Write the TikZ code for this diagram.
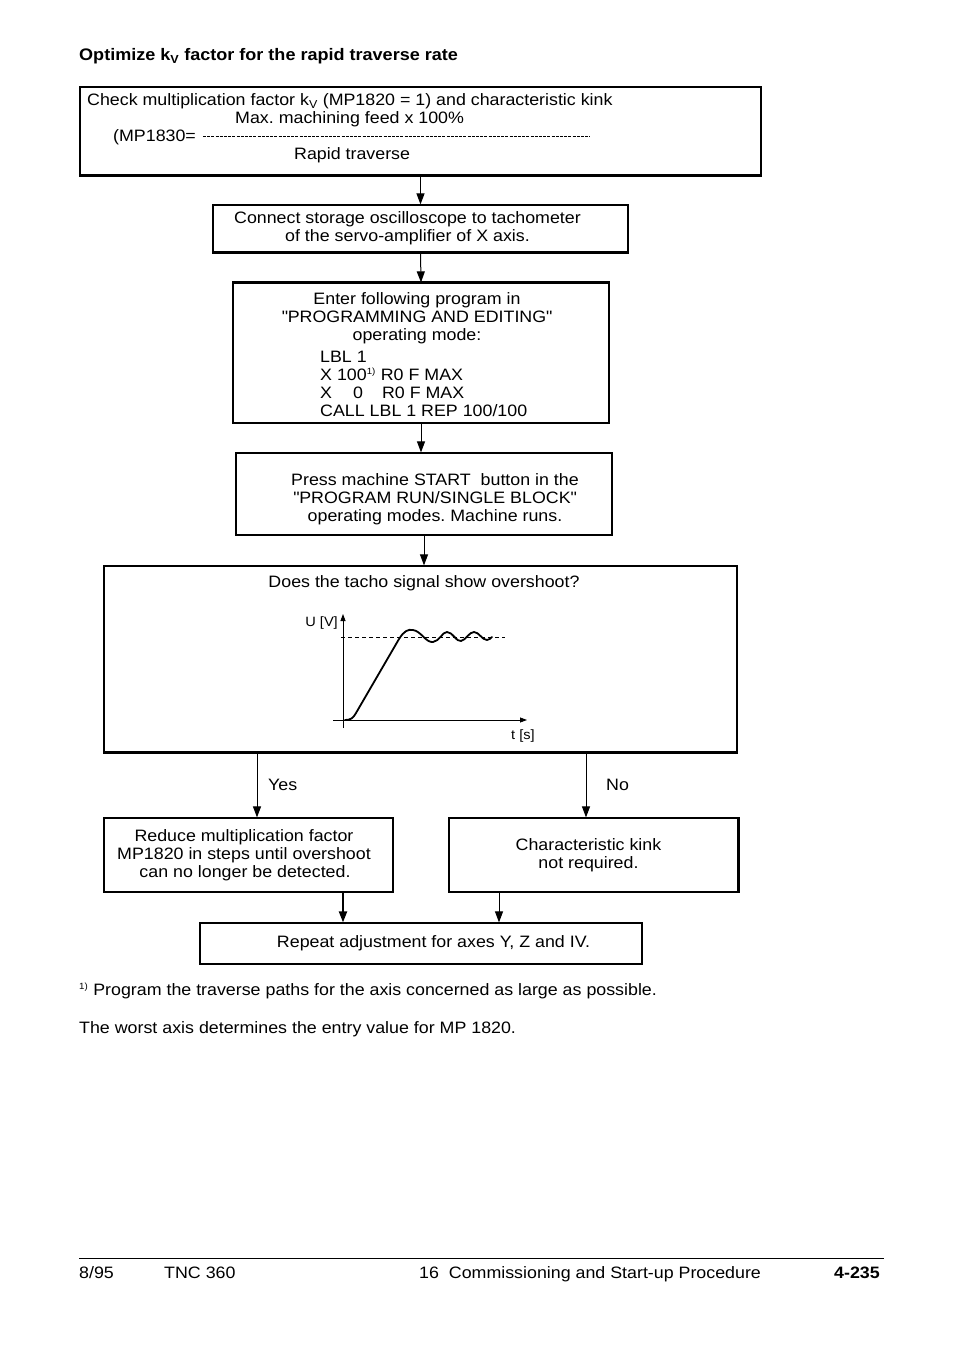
\documentclass[tikz,border=0pt]{standalone}
\usepackage{fontspec}
\setmainfont{Liberation Sans}[FakeStretch=1.08]
\usetikzlibrary{arrows.meta,fit}
\frenchspacing
\begin{document}
\begin{tikzpicture}[x=1pt,y=-1pt,
  box/.style={draw,line width=1.2pt,inner sep=0pt},
  thick edge/.style={line width=2.2pt},
  arr/.style={line width=1pt,-{Triangle[length=11pt,width=8pt]}},
  txt/.style={inner sep=0pt,font=\fontsize{16.5}{18}\selectfont},
  tl/.style={txt,anchor=base west},
  tc/.style={txt,anchor=base},
  small/.style={inner sep=0pt,font=\fontsize{13.5}{15}\selectfont}]
\useasboundingbox (0,0) rectangle (954,1346);

% title
\node[anchor=base west,inner sep=0pt,font=\fontsize{16.7}{18}\selectfont\bfseries] (title) at (79,61) {Optimize k\textsubscript{V} factor for the rapid traverse rate};

% boxes
\node[box,fit={(80,87)(761,175)}] (b1) {};
\node[box,fit={(213,205)(628,252)}] (b2) {};
\node[box,fit={(233,283)(609,423)}] (b3) {};
\node[box,fit={(236,453)(612,535)}] (b4) {};
\node[box,fit={(104,566)(737,752)}] (b5) {};
\node[box,fit={(104,818)(393,892)}] (b6) {};
\node[box,fit={(449,818)(738,892)}] (b7) {};
\node[box,fit={(200,923)(642,964)}] (b8) {};

% heavier edges
\draw[thick edge] (b1.south west) -- (b1.south east);
\draw[thick edge] (b2.south west) -- (b2.south east);
\draw[thick edge] (b3.north west) -- (b3.north east);
\draw[thick edge] (b5.south west) -- (b5.south east);
\draw[thick edge] (b7.north east) -- (b7.south east);

% box 1 text
\node[tl] (t11) at (87,105.5) {Check multiplication factor k\textsubscript{V} (MP1820 = 1) and characteristic kink};
\node[tl] (t12) at (235,123.5) {Max. machining feed x 100\%};
\node[tl] (t13) at (113,141.5) {(MP1830=};
\coordinate (fracL) at (203,136);
\coordinate (fracR) at (590,136);
\draw[line width=0.8pt,dash pattern=on 3pt off 1.2pt] (fracL) -- (fracR);
\node[tl] (t14) at (294,159.5) {Rapid traverse};

% box 2 text
\node[tc] (t21) at (407.5,223.5) {Connect storage oscilloscope to tachometer};
\node[tc] (t22) at (407.5,241.5) {of the servo-amplifier of X axis.};

% box 3 text
\node[tc] (t31) at (417,304.5) {Enter following program in};
\node[tc] (t32) at (417,322.5) {\textquotedbl PROGRAMMING AND EDITING\textquotedbl};
\node[tc] (t33) at (417,340.5) {operating mode:};
\node[tl] (t34) at (320,362.5) {LBL 1};
\node[tl] (t35) at (320,380.5) {X 100\textsuperscript{\fontsize{9}{9}\selectfont 1)} R0 F MAX};
\node[tl] (t36) at (320,398.5) {X\hspace{1.28em}0\hspace{1.15em}R0 F MAX};
\node[tl] (t37) at (320,416.5) {CALL LBL 1 REP 100/100};

% box 4 text
\node[tc] (t41) at (435,485.5) {Press machine START\ \ button in the};
\node[tc] (t42) at (435,503.5) {\textquotedbl PROGRAM RUN/SINGLE BLOCK\textquotedbl};
\node[tc] (t43) at (435,521.5) {operating modes. Machine runs.};

% box 5 text
\node[tc] (t51) at (424,587.5) {Does the tacho signal show overshoot?};

% graph
\coordinate (ytop) at (343,614);
\coordinate (ybot) at (343,728);
\coordinate (xl) at (333,720);
\coordinate (xr) at (527,720);
\draw[line width=0.8pt,-{Triangle[length=7pt,width=5pt]}] (ybot) -- (ytop);
\draw[line width=0.8pt,-{Triangle[length=7pt,width=5pt]}] (xl) -- (xr);
\coordinate (dl) at (341,637);
\coordinate (dr) at (505,637);
\draw[line width=0.7pt,dash pattern=on 4pt off 3pt] (dl) -- (dr);
\draw[line width=1.8pt,line join=round,line cap=round]
  (345,720) .. controls (351,720) and (353,718) .. (356,713) -- (399,639)
  .. controls (404,631) and (408,629) .. (413,630)
  .. controls (421,631) and (426,643) .. (433,642)
  .. controls (440,641) and (442,632) .. (447,632)
  .. controls (453,632) and (456,642) .. (461,641)
  .. controls (466,640) and (469,632) .. (474,632)
  .. controls (479,632) and (482,640) .. (487,640)
  .. controls (489,640) and (491,638) .. (492,637);
\node[small,anchor=base east] (ulab) at (338,626.5) {U [V]};
\node[small,anchor=base west] (tlab) at (511,739.5) {t [s]};

% yes / no
\coordinate (yesx) at (257,0);
\coordinate (nox) at (586,0);
\draw[arr] (b5.south -| yesx) -- (b6.north -| yesx);
\draw[arr] (b5.south -| nox) -- (b7.north -| nox);
\node[tl] (yes) at (268,790.5) {Yes};
\node[tl] (no) at (606,790.5) {No};

% box 6 / 7 text
\node[tc] (t61) at (244,841.5) {Reduce multiplication factor};
\node[tc] (t62) at (244,859.5) {MP1820 in steps until overshoot};
\node[tc] (t63) at (245,877.5) {can no longer be detected.};
\node[tc] (t71) at (588.5,850.5) {Characteristic kink};
\node[tc] (t72) at (588.5,868.5) {not required.};

% box 8 text
\node[tc] (t81) at (433.5,947.5) {Repeat adjustment for axes Y, Z and IV.};

% main arrows
\draw[arr] (b1.south) -- (b2.north);
\draw[arr] (b2.south) -- (b3.north);
\draw[arr] (b3.south) -- (b3.south |- b4.north);
\draw[arr] (b4.south) -- (b4.south |- b5.north);
\coordinate (m6) at (343,0);
\coordinate (m7) at (499,0);
\draw[arr,line width=2pt] (b6.south -| m6) -- (b8.north -| m6);
\draw[arr] (b7.south -| m7) -- (b8.north -| m7);

% footnotes
\node[tl] (fn) at (79,995.5) {\textsuperscript{\fontsize{9}{9}\selectfont 1)} Program the traverse paths for the axis concerned as large as possible.};
\node[tl] (fn2) at (79,1033.5) {The worst axis determines the entry value for MP 1820.};

% footer
\coordinate (fl) at (79,1258);
\coordinate (fr) at (884,1258);
\draw[line width=0.9pt] (fl) -- (fr);
\node[tl] (f1) at (79,1278) {8/95};
\node[tl] (f2) at (164,1278) {TNC 360};
\node[tl] (f3) at (419,1278) {16\ \ Commissioning and Start-up Procedure};
\node[txt,anchor=base east,font=\fontsize{16.5}{18}\selectfont\bfseries] (f4) at (880,1278) {4-235};
\end{tikzpicture}
\end{document}
